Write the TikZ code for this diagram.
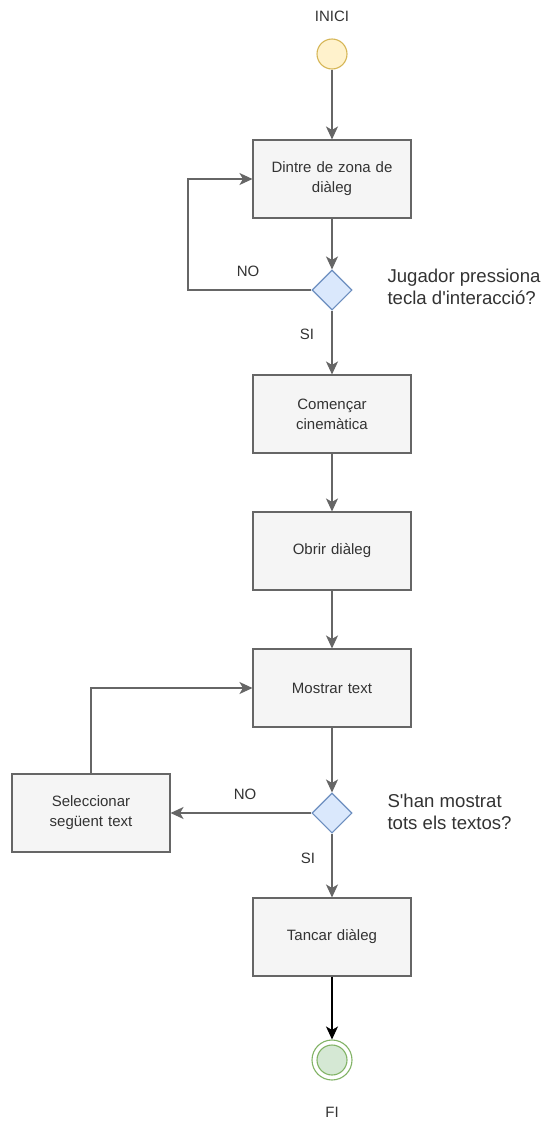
\documentclass[tikz,border=0pt]{standalone}
\usepackage{fontspec}
\setmainfont{Liberation Sans}
\usetikzlibrary{arrows.meta,shapes.geometric}
\definecolor{boxfill}{HTML}{F5F5F5}
\definecolor{boxline}{HTML}{666666}
\definecolor{txt}{HTML}{333333}
\definecolor{decfill}{HTML}{DAE8FC}
\definecolor{decline}{HTML}{6C8EBF}
\definecolor{startfill}{HTML}{FFF2CC}
\definecolor{startline}{HTML}{D6B656}
\definecolor{endfill}{HTML}{D5E8D4}
\definecolor{endline}{HTML}{82B366}
\tikzset{
  stepbox/.style={draw=boxline, fill=boxfill, line width=1.1pt, minimum width=158pt,
    minimum height=78pt, inner sep=0pt, align=center, text=txt, font=\fontsize{15}{20}\selectfont,
    text width=150pt},
  decision/.style={diamond, draw=decline, fill=decfill, line width=1.1pt, minimum width=40pt,
    minimum height=40pt, inner sep=0pt, aspect=1},
  flow/.style={draw=boxline, line width=1.2pt, -{Stealth[length=13pt,width=12pt,inset=3.5pt]}},
  lbl/.style={text=txt, font=\fontsize{15}{18}\selectfont},
  question/.style={text=txt, font=\fontsize{18.6}{22}\selectfont, align=left, anchor=west},
}
\begin{document}
\begin{tikzpicture}[x=1pt,y=-1pt]
\useasboundingbox (0,0) rectangle (542,1122);
\fill[white] (0,0) rectangle (542,1122);

% start event
\node[lbl] (tinici) at (332,16) {INICI};
\node[circle, draw=startline, fill=startfill, line width=1.1pt, minimum size=30pt, inner sep=0pt] (start) at (332,54) {};

% main column
\node[stepbox] (zona) at (332,179) {Dintre de zona de\\diàleg};
\node[decision] (d1) at (332,290) {};
\node[question] (q1) at (384,287) {Jugador pressiona\\tecla d\textquotesingle interacció?};
\node[stepbox] (cine) at (332,414) {Començar\\cinemàtica};
\node[stepbox] (obrir) at (332,551) {Obrir diàleg};
\node[stepbox] (mostrar) at (332,688) {Mostrar text};
\node[decision] (d2) at (332,813) {};
\node[question] (q2) at (384,812) {S\textquotesingle han mostrat\\tots els textos?};
\node[stepbox] (seg) at (91,813) {Seleccionar\\següent text};
\node[stepbox] (tancar) at (332,937) {Tancar diàleg};

% end event
\node[circle, draw=endline, fill=white, line width=1.1pt, minimum size=40pt, inner sep=0pt] (fi) at (332,1060) {};
\node[circle, draw=endline, fill=endfill, line width=1.1pt, minimum size=30pt, inner sep=0pt] (fiin) at (332,1060) {};
\node[lbl] (tfi) at (332,1112) {FI};

% connectors
\draw[flow] (start) -- (zona);
\draw[flow] (zona) -- (d1);
\coordinate (l1a) at (188,290);
\coordinate (l1b) at (188,179);
\draw[flow] (d1.west) -- (l1a) -- (l1b) -- (zona.west);
\node[lbl] (no1) at (248,271) {NO};
\draw[flow] (d1) -- (cine);
\node[lbl] (si1) at (307,334) {SI};
\draw[flow] (cine) -- (obrir);
\draw[flow] (obrir) -- (mostrar);
\draw[flow] (mostrar) -- (d2);
\draw[flow] (d2.west) -- (seg.east);
\node[lbl] (no2) at (245,794) {NO};
\coordinate (l2a) at (91,688);
\draw[flow] (seg.north) -- (l2a) -- (mostrar.west);
\draw[flow] (d2) -- (tancar);
\node[lbl] (si2) at (308,858) {SI};
\draw[flow, draw=black] (tancar) -- (fi);
\end{tikzpicture}
\end{document}
